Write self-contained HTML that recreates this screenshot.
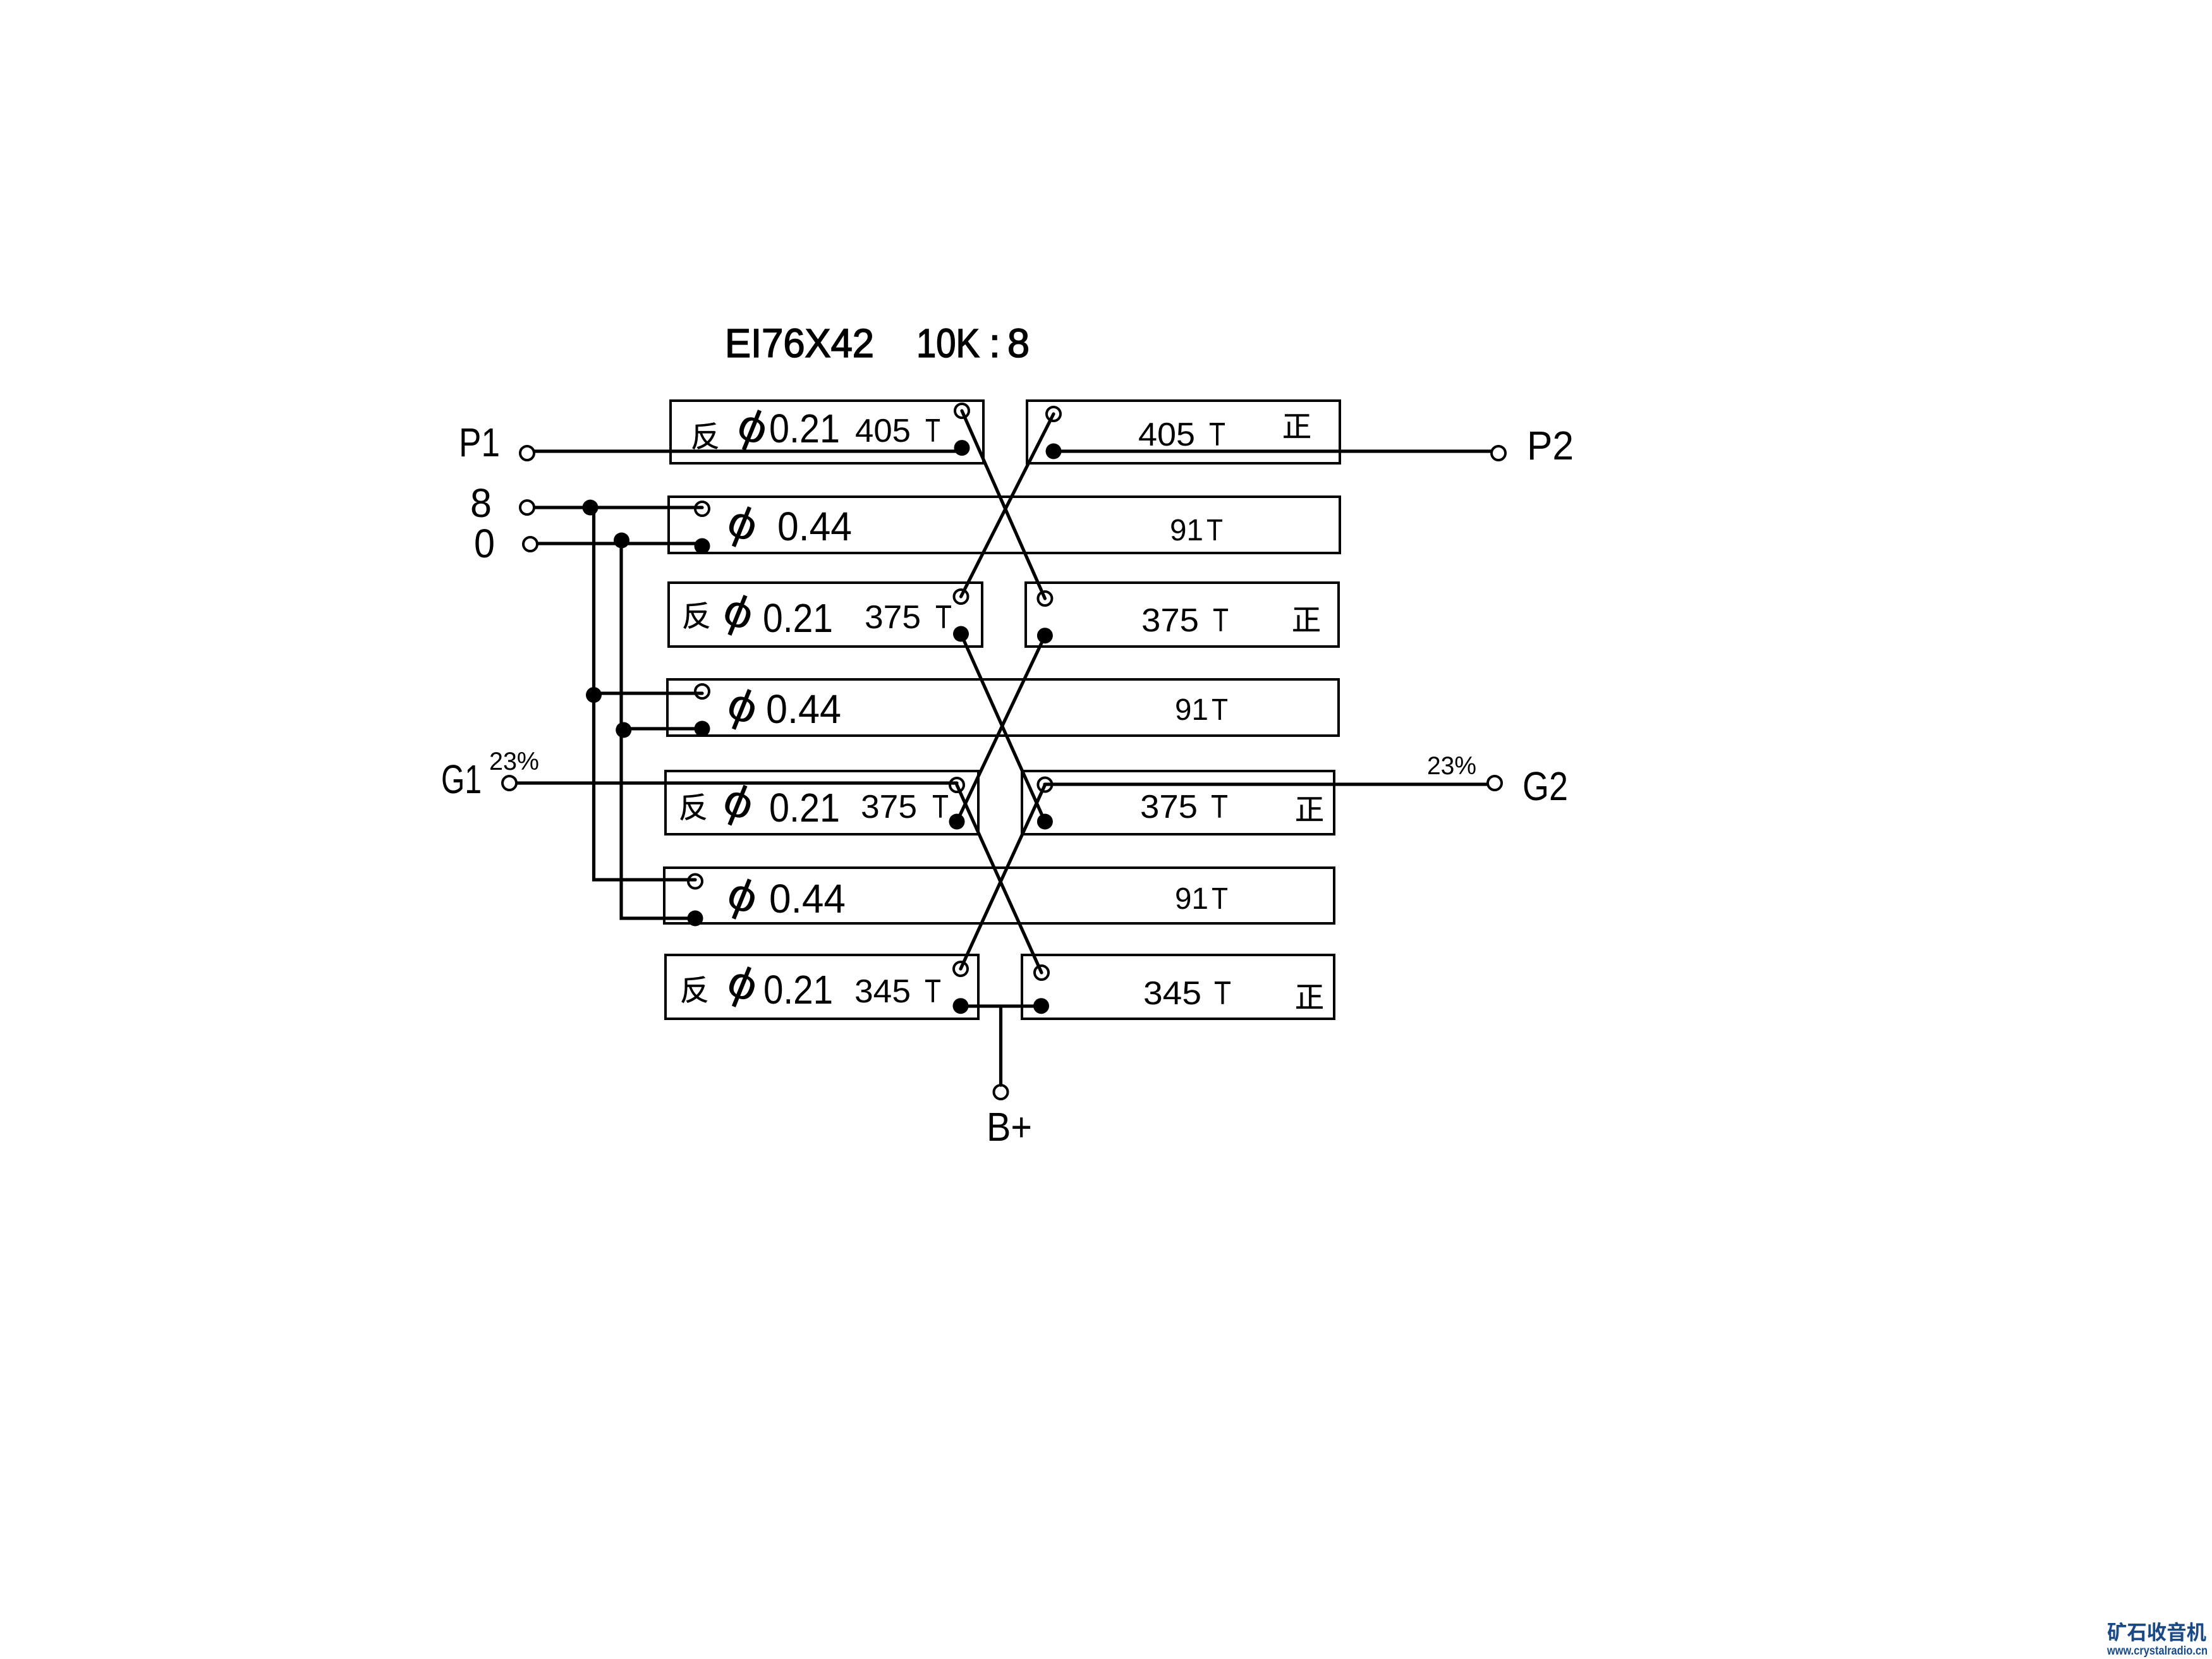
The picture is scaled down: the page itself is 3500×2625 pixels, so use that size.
<!DOCTYPE html>
<html><head><meta charset="utf-8"><title>EI76X42 10K:8</title>
<style>
html,body{margin:0;padding:0;background:#fff}
svg{display:block}
text{font-family:"Liberation Sans","Noto Sans CJK SC",sans-serif;fill:#000}
.t64{font-size:64px}.t52{font-size:52px}.t48{font-size:48px}.t40{font-size:40px}
.c{font-size:46px;font-family:"Noto Sans CJK SC","Liberation Sans",sans-serif;font-weight:400;stroke:#000;stroke-width:.5}
.p{font-size:72px}
</style></head><body>
<svg xmlns="http://www.w3.org/2000/svg" width="3500" height="2625" viewBox="0 0 3500 2625">
<rect width="3500" height="2625" fill="#fff"/>
<g fill="none" stroke="#000" stroke-width="4">
<rect x="1061" y="634" width="495" height="99"/>
<rect x="1625" y="634" width="495" height="99"/>
<rect x="1058" y="786" width="1062" height="89"/>
<rect x="1058" y="922" width="496" height="101"/>
<rect x="1623" y="922" width="495" height="101"/>
<rect x="1056" y="1075" width="1062" height="89"/>
<rect x="1053" y="1220" width="495" height="100"/>
<rect x="1617" y="1220" width="494" height="100"/>
<rect x="1051" y="1373" width="1060" height="88"/>
<rect x="1053" y="1511" width="495" height="101"/>
<rect x="1617" y="1511" width="494" height="101"/>
</g>
<g fill="none" stroke="#000" stroke-width="5.2" stroke-linecap="round">
<path d="M846 714H1522"/>
<path d="M1667 714H2359"/>
<path d="M846 803H1111"/>
<path d="M851 860H1111"/>
<path d="M939.5 803V1392H1100"/>
<path d="M983 855V1453H1100"/>
<path d="M939.5 1097H1111"/>
<path d="M986 1153H1111"/>
<path d="M818 1239H1514"/>
<path d="M1653 1241H2353"/>
<path d="M1520 1592H1647"/>
<path d="M1583.5 1592V1717"/>
<path d="M1522 650L1653.4 947"/>
<path d="M1667 655L1520.5 944"/>
<path d="M1520.5 1003L1653.4 1300"/>
<path d="M1653.4 1006L1514 1300"/>
<path d="M1514 1242L1648 1539"/>
<path d="M1653.4 1242L1520 1533"/>
</g>
<g fill="none" stroke="#000" stroke-width="4">
<circle cx="834" cy="717" r="11"/><circle cx="1522" cy="650" r="11"/><circle cx="1667" cy="655" r="11"/><circle cx="2371" cy="717" r="11"/>
<circle cx="834" cy="803" r="11"/><circle cx="1111" cy="805" r="11"/><circle cx="839" cy="861" r="11"/>
<circle cx="1520.5" cy="944" r="11"/><circle cx="1653.4" cy="947" r="11"/>
<circle cx="1111" cy="1094" r="11"/>
<circle cx="806" cy="1239" r="11"/><circle cx="1514" cy="1242" r="11"/><circle cx="1653.4" cy="1241.5" r="11"/><circle cx="2365" cy="1239" r="11"/>
<circle cx="1100" cy="1394.5" r="11"/>
<circle cx="1520" cy="1533" r="11"/><circle cx="1648" cy="1539" r="11"/><circle cx="1583.5" cy="1728" r="11"/>
</g>
<g fill="#000">
<circle cx="1522" cy="708.6" r="12.5"/><circle cx="1667" cy="714" r="12.5"/>
<circle cx="934" cy="803" r="12.5"/><circle cx="983.5" cy="855" r="12.5"/><circle cx="1111" cy="864" r="12.5"/>
<circle cx="1520.5" cy="1003" r="12.5"/><circle cx="1653.4" cy="1005.7" r="12.5"/>
<circle cx="939.5" cy="1099.6" r="12.5"/><circle cx="986.7" cy="1155" r="12.5"/><circle cx="1111" cy="1153" r="12.5"/>
<circle cx="1514" cy="1300" r="12.5"/><circle cx="1653.4" cy="1300" r="12.5"/>
<circle cx="1100" cy="1453" r="12.5"/>
<circle cx="1520" cy="1591.7" r="12.5"/><circle cx="1647.5" cy="1591.7" r="12.5"/>
</g>

<!-- title -->
<g stroke="#000" stroke-width="1.6">
<text class="t64" x="1147" y="565" textLength="236" lengthAdjust="spacingAndGlyphs">EI76X42</text>
<text class="t64" x="1450" y="565" textLength="100" lengthAdjust="spacingAndGlyphs">10K</text>
<text class="t64" x="1565" y="565">:</text>
<text class="t64" x="1594" y="565" textLength="35" lengthAdjust="spacingAndGlyphs">8</text>
</g>

<!-- terminals -->
<text class="t64" x="726" y="722" textLength="65" lengthAdjust="spacingAndGlyphs">P1</text>
<text class="t64" x="744" y="818" textLength="34" lengthAdjust="spacingAndGlyphs">8</text>
<text class="t64" x="750" y="882" textLength="33" lengthAdjust="spacingAndGlyphs">0</text>
<text class="t64" x="698" y="1255" textLength="64" lengthAdjust="spacingAndGlyphs">G1</text>
<text class="t40" x="774" y="1218" textLength="79" lengthAdjust="spacingAndGlyphs">23%</text>
<text class="t64" x="2416" y="727" textLength="74" lengthAdjust="spacingAndGlyphs">P2</text>
<text class="t64" x="2409" y="1266" textLength="72" lengthAdjust="spacingAndGlyphs">G2</text>
<text class="t40" x="2258" y="1225" textLength="78" lengthAdjust="spacingAndGlyphs">23%</text>
<text class="t64" x="1561" y="1805" textLength="72" lengthAdjust="spacingAndGlyphs">B+</text>

<!-- left boxes -->
<text class="c" x="1093" y="707">反</text>
<text class="p" transform="translate(1189 682) rotate(22) scale(1.12 1)" text-anchor="middle" y="17">ϕ</text>
<text class="t64" x="1217" y="700" textLength="112" lengthAdjust="spacingAndGlyphs">0.21</text>
<text class="t52" x="1353" y="699" textLength="88" lengthAdjust="spacingAndGlyphs">405</text>
<text class="t52" x="1464" y="699" textLength="24" lengthAdjust="spacingAndGlyphs">T</text>

<text class="p" transform="translate(1173 835) rotate(22) scale(1.12 1)" text-anchor="middle" y="17">ϕ</text>
<text class="t64" x="1230" y="855" textLength="118" lengthAdjust="spacingAndGlyphs">0.44</text>

<text class="c" x="1079" y="991">反</text>
<text class="p" transform="translate(1166.6 975) rotate(22) scale(1.12 1)" text-anchor="middle" y="17">ϕ</text>
<text class="t64" x="1207" y="1000" textLength="111" lengthAdjust="spacingAndGlyphs">0.21</text>
<text class="t52" x="1368" y="994" textLength="89" lengthAdjust="spacingAndGlyphs">375</text>
<text class="t52" x="1480" y="994" textLength="26" lengthAdjust="spacingAndGlyphs">T</text>

<text class="p" transform="translate(1173 1124) rotate(22) scale(1.12 1)" text-anchor="middle" y="17">ϕ</text>
<text class="t64" x="1212" y="1144" textLength="119" lengthAdjust="spacingAndGlyphs">0.44</text>

<text class="c" x="1074" y="1294">反</text>
<text class="p" transform="translate(1166.6 1275.7) rotate(22) scale(1.12 1)" text-anchor="middle" y="17">ϕ</text>
<text class="t64" x="1217" y="1300" textLength="112" lengthAdjust="spacingAndGlyphs">0.21</text>
<text class="t52" x="1362" y="1294" textLength="89" lengthAdjust="spacingAndGlyphs">375</text>
<text class="t52" x="1475" y="1294" textLength="26" lengthAdjust="spacingAndGlyphs">T</text>

<text class="p" transform="translate(1173 1424) rotate(22) scale(1.12 1)" text-anchor="middle" y="17">ϕ</text>
<text class="t64" x="1217" y="1444" textLength="121" lengthAdjust="spacingAndGlyphs">0.44</text>

<text class="c" x="1076" y="1583">反</text>
<text class="p" transform="translate(1173 1563) rotate(22) scale(1.12 1)" text-anchor="middle" y="17">ϕ</text>
<text class="t64" x="1208" y="1588" textLength="110" lengthAdjust="spacingAndGlyphs">0.21</text>
<text class="t52" x="1352" y="1586" textLength="89" lengthAdjust="spacingAndGlyphs">345</text>
<text class="t52" x="1463" y="1586" textLength="26" lengthAdjust="spacingAndGlyphs">T</text>

<!-- right boxes -->
<text class="t52" x="1801" y="705" textLength="90" lengthAdjust="spacingAndGlyphs">405</text>
<text class="t52" x="1913" y="705" textLength="26" lengthAdjust="spacingAndGlyphs">T</text>
<text class="c" x="2029" y="691">正</text>

<text class="t48" x="1851" y="855" textLength="53" lengthAdjust="spacingAndGlyphs">91</text>
<text class="t48" x="1909" y="855" textLength="26" lengthAdjust="spacingAndGlyphs">T</text>

<text class="t52" x="1806" y="999" textLength="91" lengthAdjust="spacingAndGlyphs">375</text>
<text class="t52" x="1919" y="999" textLength="25" lengthAdjust="spacingAndGlyphs">T</text>
<text class="c" x="2044" y="997">正</text>

<text class="t48" x="1859" y="1139" textLength="53" lengthAdjust="spacingAndGlyphs">91</text>
<text class="t48" x="1917" y="1139" textLength="26" lengthAdjust="spacingAndGlyphs">T</text>

<text class="t52" x="1804" y="1294" textLength="91" lengthAdjust="spacingAndGlyphs">375</text>
<text class="t52" x="1916" y="1294" textLength="27" lengthAdjust="spacingAndGlyphs">T</text>
<text class="c" x="2049" y="1297">正</text>

<text class="t48" x="1859" y="1438" textLength="53" lengthAdjust="spacingAndGlyphs">91</text>
<text class="t48" x="1917" y="1438" textLength="26" lengthAdjust="spacingAndGlyphs">T</text>

<text class="t52" x="1809" y="1589" textLength="92" lengthAdjust="spacingAndGlyphs">345</text>
<text class="t52" x="1921" y="1589" textLength="27" lengthAdjust="spacingAndGlyphs">T</text>
<text class="c" x="2049" y="1594">正</text>

<!-- watermark -->
<text x="3334" y="2594" style="font-family:'Noto Sans CJK SC','WenQuanYi Zen Hei',sans-serif;font-size:32px;font-weight:700;fill:#1a4a86" textLength="157" lengthAdjust="spacingAndGlyphs">矿石收音机</text>
<text x="3334" y="2618" style="font-size:19px;font-weight:700;fill:#1a4a86" textLength="159" lengthAdjust="spacingAndGlyphs">www.crystalradio.cn</text>
</svg>
</body></html>
